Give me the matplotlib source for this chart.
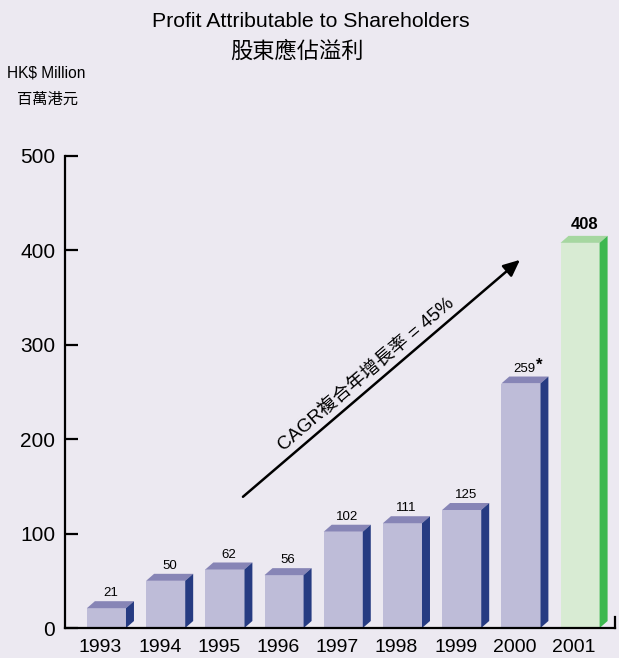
#!/usr/bin/env python3
"""Profit attributable to shareholders, 1993-2001, drawn as pseudo-3D bars."""

import matplotlib
matplotlib.use("Agg")
import matplotlib.pyplot as plt
from matplotlib.patches import Polygon, Rectangle

plt.rcParams["font.family"] = ["Liberation Sans", "Noto Sans CJK TC", "DejaVu Sans"]

years = ["1993", "1994", "1995", "1996", "1997", "1998", "1999", "2000", "2001"]
profits = [21, 50, 62, 56, 102, 111, 125, 259, 408]
value_labels = ["21", "50", "62", "56", "102", "111", "125", "259", "408"]
y_ticks = [0, 100, 200, 300, 400, 500]

BG = "#ECE9F1"
PURPLE = ("#BEBCD8", "#8785B6", "#263B82")  # front, top, side
GREEN = ("#D8EBD3", "#A6D7A0", "#3DB850")

fig = plt.figure(figsize=(6.19, 6.58), dpi=100, facecolor=BG)
ax = fig.add_axes([65 / 619, 30 / 658, 550 / 619, 472 / 658])
ax.set_facecolor(BG)

width = 0.66
dx = 0.135   # depth in x (data units)
dy = 7.4     # depth in y (data units)

for i, (year, val, lbl) in enumerate(zip(years, profits, value_labels)):
    front, top, side = GREEN if year == "2001" else PURPLE
    left = i - width / 2
    right = i + width / 2
    ax.add_patch(Rectangle((left, 0), width, val, facecolor=front, edgecolor="none", zorder=2))
    ax.add_patch(Polygon([(left, val), (left + dx, val + dy), (right + dx, val + dy), (right, val)],
                         closed=True, facecolor=top, edgecolor="none", zorder=2))
    ax.add_patch(Polygon([(right, 0), (right + dx, dy), (right + dx, val + dy), (right, val)],
                         closed=True, facecolor=side, edgecolor="none", zorder=2))

    if year == "2001":
        ax.text(i + dx / 2, val + dy + 4, lbl, ha="center", va="bottom",
                fontsize=12, fontweight="bold", zorder=3)
    else:
        t = ax.text(i + dx / 2, val + dy + 2, lbl, ha="center", va="bottom", fontsize=9.5, zorder=3)
        if year == "2000":
            ax.annotate("*", xy=(1.0, 0.8), xycoords=t, ha="left", va="center",
                        fontsize=12, fontweight="bold")

ax.set_xlim(-0.70, 8.59)
ax.set_ylim(0, 500)

ax.set_xticks([i - 0.1 for i in range(len(years))])
ax.set_xticklabels(years, fontsize=14)
ax.tick_params(axis="x", length=0, pad=8)

ax.set_yticks(y_ticks)
ax.set_yticklabels([str(v) for v in y_ticks], fontsize=15)
ax.tick_params(axis="y", direction="in", length=9, width=1.6, pad=7)

ax.spines["top"].set_visible(False)
for s in ("left", "bottom", "right"):
    ax.spines[s].set_linewidth(1.6)
ax.spines["right"].set_bounds(0, 12)
ax.spines["bottom"].set_zorder(4)

# growth arrow with label
ax.annotate("", xy=(6.985, 390), xytext=(2.306, 139),
            arrowprops=dict(arrowstyle="-|>,head_length=1.0,head_width=0.45",
                            color="black", lw=1.8, shrinkA=0, shrinkB=0))
ax.text(4.40, 268, "CAGR複合年增長率 = 45%", rotation=40.6, ha="center", va="center",
        fontsize=13.5, rotation_mode="anchor")

fig.text(0.502, 0.968, "Profit Attributable to Shareholders", ha="center", va="center", fontsize=15.3)
fig.text(0.48, 0.921, "股東應佔溢利", ha="center", va="center", fontsize=16)
fig.text(0.011, 0.889, "HK$ Million", ha="left", va="center", fontsize=11.2)
fig.text(0.027, 0.848, "百萬港元", ha="left", va="center", fontsize=11)

fig.savefig("out.png", dpi=100, facecolor=BG)
